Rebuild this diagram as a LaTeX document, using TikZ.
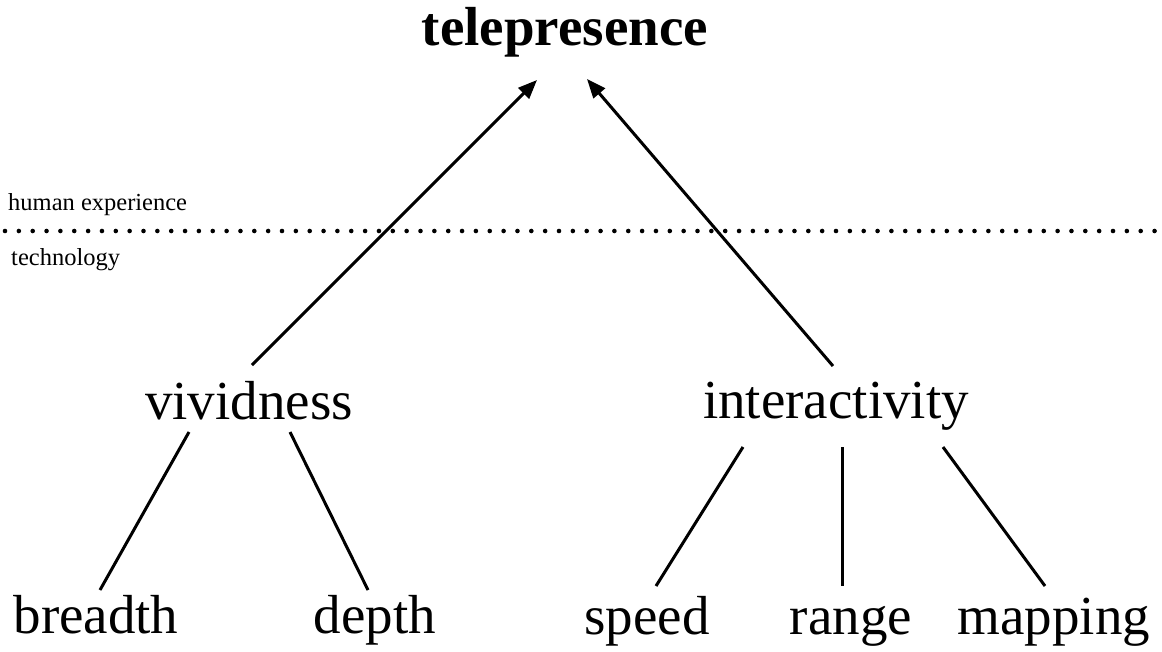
\documentclass[tikz,border=0pt]{standalone}
\usepackage{fontspec}
\setmainfont{Liberation Serif}
\usetikzlibrary{arrows.meta}
\begin{document}
\begin{tikzpicture}[x=1pt,y=-1pt,
  lbl/.style={inner sep=0pt,anchor=base,font=\fontsize{55}{60}\selectfont},
  ttl/.style={inner sep=0pt,anchor=base,font=\fontsize{55}{60}\selectfont\bfseries},
  side/.style={inner sep=0pt,anchor=base west,font=\fontsize{24.5}{28}\selectfont},
  conn/.style={line width=3pt,black},
  arr/.style={conn,-{Triangle[length=19pt,width=15pt]}},
  dotline/.style={line width=4.6pt,line cap=round,dash pattern=on 0pt off 13.85pt}]
\useasboundingbox (0,0) rectangle (1162,651);
% nodes
\node[ttl] (tele) at (565,45) {telepresence};
\node[lbl] (viv) at (249,419) {vividness};
\node[lbl] (inter) at (836,418) {interactivity};
\node[lbl] (breadth) at (96,633) {breadth};
\node[lbl] (depth) at (375,633) {depth};
\node[lbl] (speed) at (647,634) {speed};
\node[lbl] (range) at (851,634) {range};
\node[lbl] (mapping) at (1054,634) {mapping};
\node[side] (human) at (8,210) {human experience};
\node[side] (tech) at (11,265) {technology};
% dotted separator
\coordinate (dotL) at (5,231);
\coordinate (dotR) at (1156,231);
\draw[dotline] (dotL) -- (dotR);
% arrows
\draw[arr] ([shift={(3,-54)}]viv.base) -- ([shift={(-28,35)}]tele.base);
\draw[arr] ([shift={(-3,-52)}]inter.base) -- ([shift={(22,34)}]tele.base);
% tree lines
\draw[conn] ([shift={(-60,13)}]viv.base) -- ([shift={(4,-43)}]breadth.base);
\draw[conn] ([shift={(41,13)}]viv.base) -- ([shift={(-7,-43)}]depth.base);
\draw[conn] ([shift={(-93,29)}]inter.base) -- ([shift={(9,-48)}]speed.base);
\draw[conn] ([shift={(6,29)}]inter.base) -- ([shift={(-9,-48)}]range.base);
\draw[conn] ([shift={(107,29)}]inter.base) -- ([shift={(-9,-48)}]mapping.base);
\end{tikzpicture}
\end{document}
